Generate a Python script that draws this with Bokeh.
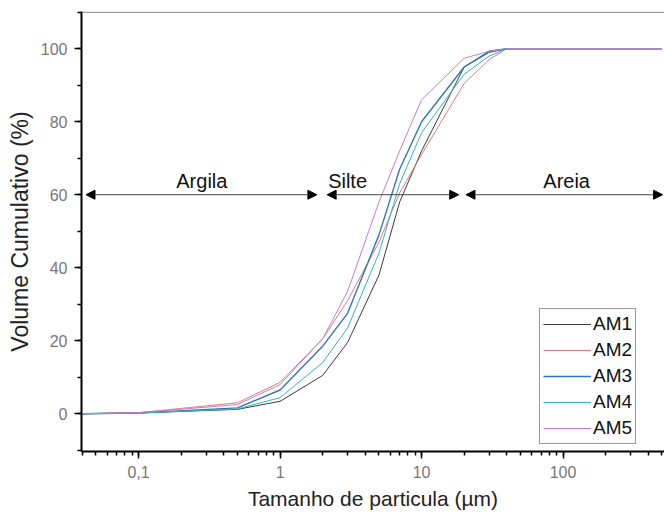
from bokeh.plotting import figure
from bokeh.models import (Range1d, Legend, LegendItem, Arrow, NormalHead, Span,
                          CustomJSTickFormatter, SingleIntervalTicker, LogTicker)
from bokeh.core.properties import value
from bokeh.embed import file_html
from bokeh.resources import INLINE

# particle size (µm) and cumulative volume (%)
sizes = [0.04, 0.1, 0.5, 1, 2, 3, 5, 7, 10, 20, 30, 40, 100, 500]
am1 = [0, 0.2, 1.2, 3.4, 10.5, 19.5, 38, 58, 72, 95, 99, 100, 100, 100]
am2 = [0, 0.3, 3.0, 8.6, 20.5, 31, 47, 60.5, 71, 90.5, 97, 100, 100, 100]
am3 = [0, 0.2, 1.6, 6.5, 18.5, 27.5, 49, 67, 80, 95, 99.3, 100, 100, 100]
am4 = [0, 0.2, 1.3, 4.4, 14, 23.5, 44, 63, 77, 93, 98, 100, 100, 100]
am5 = [0, 0.3, 2.5, 8.0, 20.5, 33.5, 58, 72, 86, 97.4, 99.3, 100, 100, 100]

series_names = ["AM1", "AM2", "AM3", "AM4", "AM5"]
series_values = [am1, am2, am3, am4, am5]
series_colors = ["#3c3c3c", "#e07a80", "#2f78b8", "#34b3b8", "#c87cc8"]
series_widths = [1, 1, 1.4, 1, 1]

# size classes (arrows at 60 %)
region_names = ["Argila", "Silte", "Areia"]
region_start = [0.0425, 2.15, 20.6]
region_end = [1.82, 18.3, 505]
region_label_x = [0.28, 3.0, 106]
region_arrow_y = 60
region_label_y = 63.8

font = "Liberation Sans"

p = figure(width=664, height=515, x_axis_type="log",
           x_range=Range1d(0.0395, 521), y_range=Range1d(-10.35, 110.2),
           output_backend="svg", toolbar_location=None)
p.min_border = 0
p.min_border_left = 81
p.min_border_right = 0
p.min_border_top = 11
p.min_border_bottom = 64
p.outline_line_color = None
p.xgrid.visible = False
p.ygrid.visible = False
p.background_fill_color = "white"
p.border_fill_color = "white"

renderers = []
for name, vals, col, w in zip(series_names, series_values, series_colors, series_widths):
    r = p.line(sizes, vals, line_color=col, line_width=w)
    renderers.append(r)

# top border
p.add_layout(Span(location=110, dimension="width", line_color="#777777", line_width=1))

for xs, xe in zip(region_start, region_end):
    p.add_layout(Arrow(start=NormalHead(size=9, fill_color="black", line_color="black"),
                       end=NormalHead(size=9, fill_color="black", line_color="black"),
                       x_start=xs, y_start=region_arrow_y, x_end=xe, y_end=region_arrow_y,
                       line_color="#444444", line_width=1))

p.text(x=region_label_x, y=[region_label_y] * 3, text=region_names,
       text_font=value(font), text_font_size="20px",
       text_align="center", text_baseline="middle", text_color="#111111")

for ax in (p.xaxis[0], p.yaxis[0]):
    ax.axis_line_color = "black"
    ax.axis_line_width = 2
    ax.major_tick_line_color = "black"
    ax.major_tick_line_width = 1.5
    ax.minor_tick_line_color = "black"
    ax.minor_tick_line_width = 1.5
    ax.major_tick_in = 0
    ax.major_tick_out = 7
    ax.minor_tick_in = 0
    ax.minor_tick_out = 4
    ax.major_label_text_font = font
    ax.major_label_text_font_size = "16px"
    ax.major_label_text_color = "#777777"
    ax.axis_label_text_font = font
    ax.axis_label_text_font_style = "normal"
    ax.axis_label_text_color = "#222222"
    ax.major_label_standoff = 7

p.xaxis.ticker = LogTicker(num_minor_ticks=10)
p.xaxis.formatter = CustomJSTickFormatter(
    code="var v = Number(tick.toPrecision(6)); return (v < 1) ? String(v).replace('.', ',') : String(v);")
p.xaxis.axis_label = "Tamanho de particula (\u00b5m)"
p.xaxis.axis_label_text_font_size = "21px"
p.xaxis.axis_label_standoff = 6

p.yaxis.ticker = SingleIntervalTicker(interval=20, num_minor_ticks=2)
p.yaxis.axis_label = "Volume Cumulativo (%)"
p.yaxis.axis_label_text_font_size = "23px"
p.yaxis.axis_label_standoff = 5

legend = Legend(items=[LegendItem(label=n, renderers=[r]) for n, r in zip(series_names, renderers)],
                location=(458, 7))
legend.border_line_color = "#333333"
legend.border_line_width = 1
legend.background_fill_color = "white"
legend.background_fill_alpha = 1
legend.label_text_font = "Arial"
legend.label_text_font_size = "19px"
legend.label_text_color = "#111111"
legend.glyph_width = 48
legend.glyph_height = 24
legend.label_height = 24
legend.label_width = 10
legend.label_standoff = 2
legend.spacing = 2
legend.padding = 3
legend.margin = 0
p.add_layout(legend)

open("out.html", "w").write(file_html(p, INLINE))
